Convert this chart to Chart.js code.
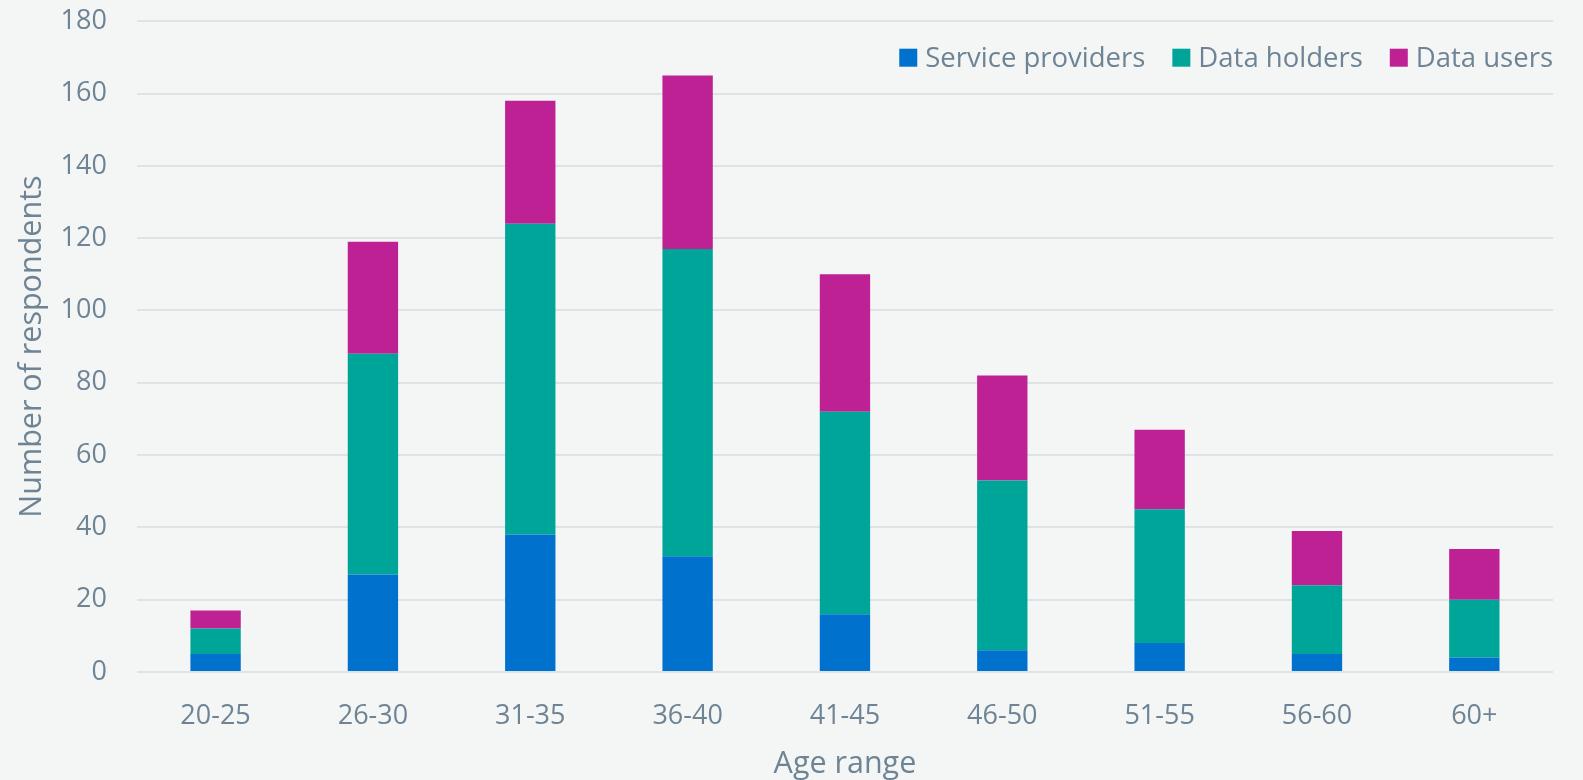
<!DOCTYPE html>
<html>

<head>
  <title>Respondents by age range</title>
  <script src="https://cdn.jsdelivr.net/npm/chart.js"></script>
  <style>
    body { margin: 0; background: #f4f6f6; }
    #wrap { width: 1583px; height: 780px; position: relative; overflow: hidden; }
    #inner { position: absolute; left: 0; top: -25px; width: 1583px; height: 808px; }
  </style>
</head>

<body>
  <div id="wrap"><div id="inner"><canvas id="ageChart"></canvas></div></div>

  <script>
    const ageRanges = ['20-25', '26-30', '31-35', '36-40', '41-45', '46-50', '51-55', '56-60', '60+'];
    const serviceProviders = [5, 27, 38, 32, 16, 6, 8, 5, 4];
    const dataHolders = [7, 61, 86, 85, 56, 47, 37, 19, 16];
    const dataUsers = [5, 31, 34, 48, 38, 29, 22, 15, 14];
    const yTicks = [0, 20, 40, 60, 80, 100, 120, 140, 160, 180];

    const textColor = '#6e8495';
    const fontFamily = '"Open Sans", sans-serif';

    // legend sits inside the plot area, top right, so draw it by hand
    const insideLegend = {
      id: 'insideLegend',
      afterDraw(chart) {
        const ctx = chart.ctx;
        const area = chart.chartArea;
        const box = 18;
        const gap = 8;
        const itemGap = 27;
        ctx.save();
        ctx.font = '27.5px ' + fontFamily;
        ctx.textBaseline = 'middle';
        let x = area.right;
        const y = area.top + 36.5;
        const sets = chart.data.datasets.slice().reverse();
        for (const ds of sets) {
          const w = ctx.measureText(ds.label).width;
          x -= w;
          ctx.fillStyle = textColor;
          ctx.fillText(ds.label, x, y + 1);
          x -= gap + box;
          ctx.fillStyle = ds.backgroundColor;
          ctx.fillRect(x, y - box / 2, box, box);
          x -= itemGap;
        }
        ctx.restore();
      }
    };

    const ctx = document.getElementById('ageChart').getContext('2d');
    new Chart(ctx, {
      type: 'bar',
      data: {
        labels: ageRanges,
        datasets: [
          { label: 'Service providers', data: serviceProviders, backgroundColor: '#0072ce' },
          { label: 'Data holders', data: dataHolders, backgroundColor: '#00a599' },
          { label: 'Data users', data: dataUsers, backgroundColor: '#be2194' }
        ]
      },
      options: {
        responsive: true,
        maintainAspectRatio: false,
        animation: false,
        layout: { padding: { left: 14, right: 30, top: 0, bottom: 0 } },
        datasets: {
          bar: { barPercentage: 1, categoryPercentage: 0.32, borderWidth: 0 }
        },
        plugins: {
          legend: { display: false },
          tooltip: { enabled: false }
        },
        scales: {
          x: {
            stacked: true,
            grid: { display: false, drawTicks: false },
            border: { display: false },
            ticks: { color: textColor, font: { family: fontFamily, size: 27 }, padding: 28 },
            title: {
              display: true, text: 'Age range', color: textColor,
              font: { family: fontFamily, size: 30.5 }, padding: { top: -14, bottom: 0 }
            }
          },
          y: {
            stacked: true,
            min: 0,
            max: 180,
            afterBuildTicks(axis) { axis.ticks = yTicks.map(v => ({ value: v })); },
            grid: { color: '#dde3e7', lineWidth: 2, drawTicks: false },
            border: { display: false },
            ticks: { color: textColor, font: { family: fontFamily, size: 27 }, padding: 30 },
            title: {
              display: true, text: 'Number of respondents', color: textColor,
              font: { family: fontFamily, size: 30.5 }, padding: { top: 0, bottom: -20 }
            }
          }
        }
      },
      plugins: [insideLegend]
    });
  </script>
</body>

</html>
